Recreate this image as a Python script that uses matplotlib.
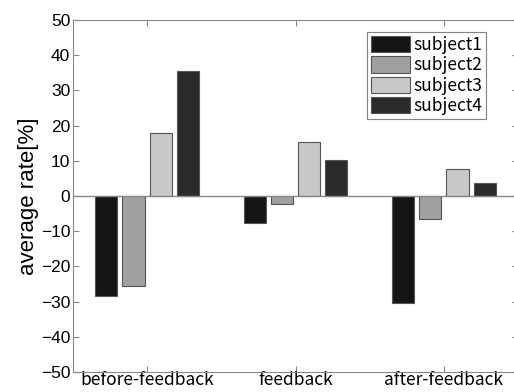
import numpy as np
import matplotlib
matplotlib.use('Agg')
import matplotlib.pyplot as plt

# data
categories = ['before-feedback', 'feedback', 'after-feedback']
subjects = ['subject1', 'subject2', 'subject3', 'subject4']
subject1 = [-28.5, -7.8, -30.3]
subject2 = [-25.5, -2.4, -6.6]
subject3 = [18.0, 15.4, 7.6]
subject4 = [35.5, 10.3, 3.6]
colors = ['#141414', '#a0a0a0', '#c8c8c8', '#2a2a2a']

values = [subject1, subject2, subject3, subject4]
x = np.arange(1, len(categories) + 1)
offsets = [-0.275, -0.092, 0.092, 0.275]
width = 0.15

fig = plt.figure(figsize=(5.14, 3.92), dpi=100)
ax = fig.add_axes([73 / 514, 20 / 392, 445 / 514, 352 / 392])

for i in range(4):
    ax.bar(x + offsets[i], values[i], width, color=colors[i],
           edgecolor='#555555', linewidth=0.8, label=subjects[i], zorder=2)

ax.axhline(0, color='#888888', linewidth=1, zorder=3)
ax.set_xlim(0.5, 3.5)
ax.set_ylim(-50, 50)
ax.set_yticks(np.arange(-50, 51, 10))
ax.set_xticks(x)
ax.set_xticklabels(categories, family=['Noto Sans CJK JP', 'DejaVu Sans'], fontsize=12.5)
for lab in ax.get_yticklabels():
    lab.set_family('Liberation Sans')
    lab.set_fontsize(12.5)
ax.tick_params(direction='in', top=True, right=True, length=4, color='#888888', pad=2)
ax.tick_params(axis='x', pad=-1)
for s in ax.spines.values():
    s.set_color('#888888')
ax.set_ylabel('average rate[%]', family='Liberation Sans', fontsize=16, labelpad=1)

leg = ax.legend(loc='upper left', bbox_to_anchor=(294 / 445, 1 - 12 / 352),
                prop={'family': 'Noto Sans CJK JP', 'size': 12.5},
                frameon=True, fancybox=False, edgecolor='#666666',
                handlelength=2.2, handleheight=1.05, handletextpad=0.2,
                labelspacing=0.12, borderpad=0.25, borderaxespad=0)
leg.get_frame().set_linewidth(0.8)

fig.savefig('out.png', dpi=100)
